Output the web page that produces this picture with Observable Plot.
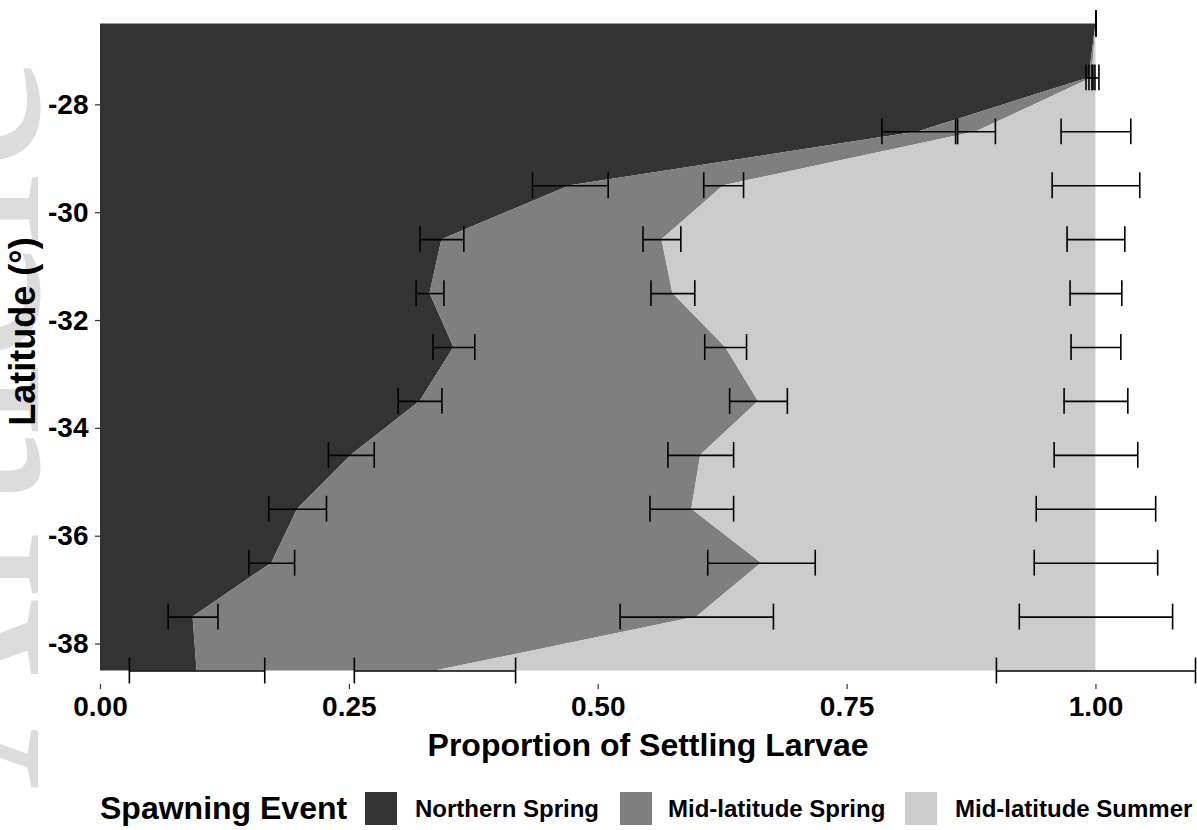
<!DOCTYPE html>
<html>
<head>
<meta charset="utf-8">
<script src="https://cdn.jsdelivr.net/npm/d3@7"></script>
<script src="https://cdn.jsdelivr.net/npm/@observablehq/plot@0.6"></script>
<style>
  html, body { margin: 0; padding: 0; background: #fff; }
  #wrap { position: relative; width: 1197px; height: 830px; overflow: hidden; font-family: "Liberation Sans", Arial, sans-serif; }
  #wm { position: absolute; left: 0; top: 0; width: 1197px; height: 830px; z-index: 0; }
  #chart { position: absolute; left: 0; top: 0; z-index: 1; }
  #legend { position: absolute; left: 0; top: 768px; width: 1197px; height: 62px; z-index: 1; font-weight: bold; color: #000; }
  #legend .t { position: absolute; white-space: nowrap; line-height: 1; }
  #legend .sw { position: absolute; width: 32px; height: 33px; }
</style>
</head>
<body>
<div id="wrap">
  <svg id="wm" width="1197" height="830"><text transform="translate(38,790) rotate(-90)" font-family="Liberation Serif, DejaVu Serif, serif" font-size="265" fill="#dcdcdc">Article</text></svg>
  <div id="chart"></div>
  <div id="legend"></div>
</div>
<script>
// Latitude rows (degrees)
const latitudes = [-26.5, -27.5, -28.5, -29.5, -30.5, -31.5, -32.5, -33.5, -34.5, -35.5, -36.5, -37.5, -38.5];
const events = ["Northern Spring", "Mid-latitude Spring", "Mid-latitude Summer"];
const eventColors = ["#333333", "#7f7f7f", "#cccccc"];

// Proportion of settling larvae per spawning event
const northernSpring    = [1.000, 0.993, 0.822, 0.472, 0.343, 0.331, 0.355, 0.321, 0.252, 0.198, 0.172, 0.093, 0.097];
const midLatSpring      = [0.000, 0.003, 0.058, 0.154, 0.221, 0.244, 0.273, 0.340, 0.351, 0.396, 0.492, 0.506, 0.239];
const midLatSummer      = [0.000, 0.004, 0.120, 0.374, 0.436, 0.425, 0.372, 0.339, 0.397, 0.406, 0.336, 0.401, 0.664];

// Error bar half-widths
const northernSpringErr = [0.000, 0.003, 0.037, 0.038, 0.022, 0.014, 0.021, 0.022, 0.023, 0.029, 0.023, 0.025, 0.068];
const midLatSpringErr   = [0.000, 0.003, 0.019, 0.020, 0.019, 0.022, 0.021, 0.029, 0.033, 0.042, 0.054, 0.077, 0.081];
const midLatSummerErr   = [0.000, 0.003, 0.035, 0.044, 0.029, 0.026, 0.025, 0.032, 0.042, 0.060, 0.062, 0.077, 0.100];

const xTicks = [0, 0.25, 0.5, 0.75, 1.0];
const yTicks = [-38, -36, -34, -32, -30, -28];

const series = [northernSpring, midLatSpring, midLatSummer];
const errs = [northernSpringErr, midLatSpringErr, midLatSummerErr];

const areaData = [];
const errData = [];
latitudes.forEach((lat, i) => {
  let cum = 0;
  events.forEach((ev, k) => {
    const v = series[k][i];
    areaData.push({lat, event: ev, value: v});
    cum += v;
    errData.push({lat, event: ev, lo: cum - errs[k][i], hi: cum + errs[k][i]});
  });
});

const capHalf = 0.24;
const ink = "#000";

const chart = Plot.plot({
  width: 1197,
  height: 768,
  marginLeft: 100,
  marginRight: 2,
  marginTop: 10,
  marginBottom: 84,
  style: {fontFamily: "'Liberation Sans', Arial, sans-serif", fontWeight: "bold", fontSize: "28px", background: "transparent", color: "#000", overflow: "visible"},
  x: {domain: [0, 1.1], label: null},
  y: {domain: [-38.75, -26.25], label: null},
  color: {domain: events, range: eventColors},
  marks: [
    Plot.areaX(areaData, {y: "lat", x: "value", fill: "event", order: events, curve: "linear"}),
    Plot.ruleY(errData, {y: "lat", x1: "lo", x2: "hi", stroke: ink, strokeWidth: 1.6}),
    Plot.ruleX(errData, {x: "lo", y1: d => d.lat - capHalf, y2: d => d.lat + capHalf, stroke: ink, strokeWidth: 1.6}),
    Plot.ruleX(errData, {x: "hi", y1: d => d.lat - capHalf, y2: d => d.lat + capHalf, stroke: ink, strokeWidth: 1.6}),
    Plot.axisX({ticks: xTicks, tickFormat: d => d.toFixed(2), tickSize: 5, tickPadding: 7, line: true, stroke: "#333", strokeWidth: 1.2, fill: "#000", fontSize: 28, label: null}),
    Plot.axisY({ticks: yTicks, tickFormat: d => String(d), tickSize: 5, tickPadding: 7, line: true, stroke: "#333", strokeWidth: 1.2, fill: "#000", fontSize: 28, label: null}),
    Plot.text(["Proportion of Settling Larvae"], {frameAnchor: "bottom", lineAnchor: "middle", textAnchor: "middle", dy: 61, fontSize: 32, fontWeight: "bold", fill: "#000"}),
    Plot.text(["Latitude (°)"], {frameAnchor: "left", textAnchor: "middle", lineAnchor: "middle", dx: -77, dy: -16, rotate: -90, fontSize: 36, fontWeight: "bold", fill: "#000"})
  ]
});
document.getElementById("chart").appendChild(chart);

// Legend
const legend = document.getElementById("legend");
const title = document.createElement("div");
title.className = "t";
title.textContent = "Spawning Event";
title.style.cssText = "left:100px; top:24px; font-size:32px;";
legend.appendChild(title);
const swX = [365, 620, 905];
const labX = [415, 668, 955];
events.forEach((ev, k) => {
  const sw = document.createElement("div");
  sw.className = "sw";
  sw.style.left = swX[k] + "px";
  sw.style.top = "24px";
  sw.style.background = eventColors[k];
  legend.appendChild(sw);
  const lab = document.createElement("div");
  lab.className = "t";
  lab.textContent = ev;
  lab.style.cssText = `left:${labX[k]}px; top:29px; font-size:24px;`;
  legend.appendChild(lab);
});
</script>
</body>
</html>
